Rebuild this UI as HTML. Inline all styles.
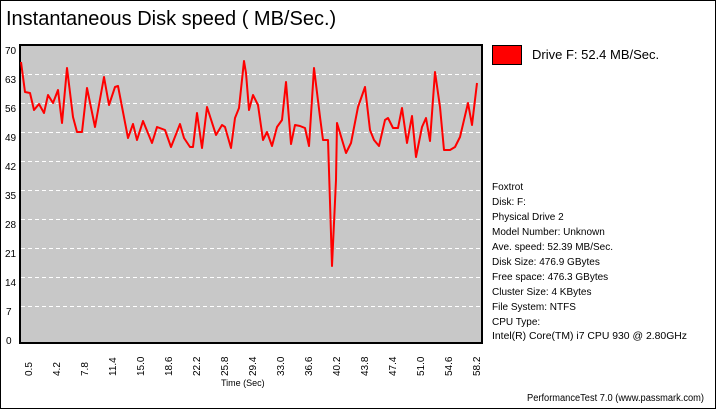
<!DOCTYPE html>
<html><head><style>
body{margin:0;background:#fff}
svg{display:block;font-family:"Liberation Sans",Arial,sans-serif}
</style></head><body>
<svg width="717" height="410" viewBox="0 0 717 410">
<rect x="0.5" y="0.5" width="715" height="408" fill="#fff" stroke="#000"/>
<text x="6" y="25" font-size="20">Instantaneous Disk speed ( MB/Sec.)</text>
<rect x="20" y="45" width="462" height="298" fill="#c8c8c8"/>
<g stroke="#fff" stroke-dasharray="4,3" stroke-width="1">
<line x1="21" x2="481" y1="74.5" y2="74.5"/>
<line x1="21" x2="481" y1="103.5" y2="103.5"/>
<line x1="21" x2="481" y1="132.5" y2="132.5"/>
<line x1="21" x2="481" y1="161.5" y2="161.5"/>
<line x1="21" x2="481" y1="190.5" y2="190.5"/>
<line x1="21" x2="481" y1="219.5" y2="219.5"/>
<line x1="21" x2="481" y1="248.5" y2="248.5"/>
<line x1="21" x2="481" y1="277.5" y2="277.5"/>
<line x1="21" x2="481" y1="306.5" y2="306.5"/>
</g>
<rect x="20" y="45" width="462" height="298" fill="none" stroke="#000" stroke-width="2"/>
<g font-size="10" fill="#000">
<text x="5" y="54">70</text><text x="5" y="83">63</text><text x="5" y="112">56</text>
<text x="5" y="141">49</text><text x="5" y="170">42</text><text x="5" y="199">35</text>
<text x="5" y="228">28</text><text x="5" y="257">21</text><text x="5" y="286">14</text>
<text x="6" y="315">7</text><text x="6" y="344">0</text>
</g>
<g font-size="10">
<text transform="translate(32,376) rotate(-90)">0.5</text>
<text transform="translate(60,376) rotate(-90)">4.2</text>
<text transform="translate(88,376) rotate(-90)">7.8</text>
<text transform="translate(116,376) rotate(-90)">11.4</text>
<text transform="translate(144,376) rotate(-90)">15.0</text>
<text transform="translate(172,376) rotate(-90)">18.6</text>
<text transform="translate(200,376) rotate(-90)">22.2</text>
<text transform="translate(228,376) rotate(-90)">25.8</text>
<text transform="translate(256,376) rotate(-90)">29.4</text>
<text transform="translate(284,376) rotate(-90)">33.0</text>
<text transform="translate(312,376) rotate(-90)">36.6</text>
<text transform="translate(340,376) rotate(-90)">40.2</text>
<text transform="translate(368,376) rotate(-90)">43.8</text>
<text transform="translate(396,376) rotate(-90)">47.4</text>
<text transform="translate(424,376) rotate(-90)">51.0</text>
<text transform="translate(452,376) rotate(-90)">54.6</text>
<text transform="translate(480,376) rotate(-90)">58.2</text>
</g>
<text x="221" y="386" font-size="9">Time (Sec)</text>
<polyline fill="none" stroke="#f00" stroke-width="2" stroke-linejoin="round" points="21,62 23,77 25,92 30,93 34,110 39,104 44,113 48,95 53,103 58,90 62,123 67,68 73,117 77,132 82,132 87,88 95,127 104,77 109,105 115,87 118,86 128,138 133,124 137,140 143,121 152,143 157,127 165,130 171,147 180,124 184,138 190,147 193,147 197,113 202,148 207,107 216,135 222,125 225,127 231,148 235,118 239,108 244,61 246,73 249,110 253,95 258,105 263,140 267,132 272,146 277,127 282,120 286,82 291,144 295,125 300,126 305,128 309,146 314,68 320,117 323,140 328,140 330,202 332,266 336,180 337,123 346,153 351,143 358,107 365,87 370,130 374,140 379,146 385,120 388,118 393,128 398,128 402,108 407,143 412,116 416,157 422,127 426,118 430,141 435,72 440,107 444,150 450,150 455,147 460,137 468,103 472,125 477,83"/>
<rect x="492.5" y="45.5" width="29" height="19" fill="#f00" stroke="#000"/>
<text x="532" y="59" font-size="13">Drive F: 52.4 MB/Sec.</text>
<g font-size="10">
<text x="492" y="190">Foxtrot</text>
<text x="492" y="205">Disk: F:</text>
<text x="492" y="220">Physical Drive 2</text>
<text x="492" y="235">Model Number: Unknown</text>
<text x="492" y="250">Ave. speed: 52.39 MB/Sec.</text>
<text x="492" y="265">Disk Size: 476.9 GBytes</text>
<text x="492" y="280">Free space: 476.3 GBytes</text>
<text x="492" y="295">Cluster Size: 4 KBytes</text>
<text x="492" y="310">File System: NTFS</text>
<text x="492" y="325">CPU Type:</text>
<text x="492" y="339" textLength="195" lengthAdjust="spacingAndGlyphs">Intel(R) Core(TM) i7 CPU 930 @ 2.80GHz</text>
</g>
<text x="527" y="401" font-size="10" textLength="177" lengthAdjust="spacingAndGlyphs">PerformanceTest 7.0 (www.passmark.com)</text>
</svg>
</body></html>
